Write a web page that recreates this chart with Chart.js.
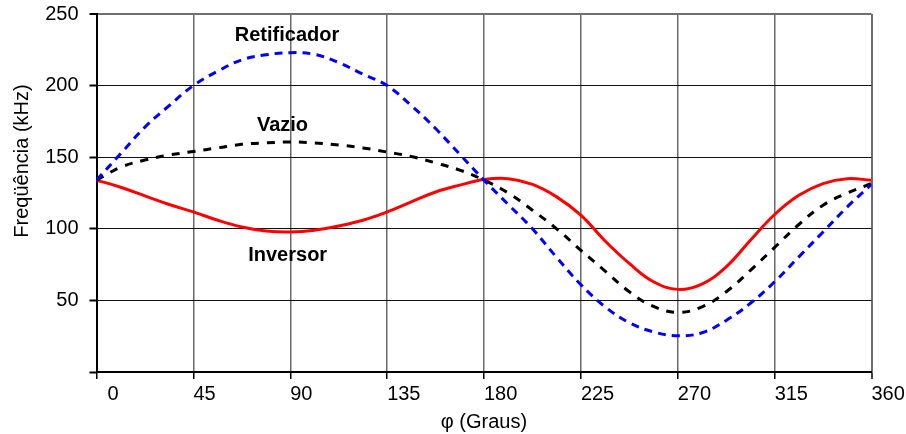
<!DOCTYPE html>
<html>
<head>
<meta charset="utf-8">
<script src="https://cdn.jsdelivr.net/npm/chart.js@4/dist/chart.umd.min.js"></script>
<style>
  html, body { margin: 0; padding: 0; background: #fff; }
  canvas { display: block; }
</style>
</head>
<body>
<canvas id="c" width="906" height="434"></canvas>
<script>
// Switching frequency versus phase angle for three operating modes
const angles = [0, 11.25, 22.5, 33.75, 45, 56.25, 67.5, 78.75, 90, 101.25, 112.5, 123.75, 135, 146.25, 157.5, 168.75,
                180, 191.25, 202.5, 213.75, 225, 236.25, 247.5, 258.75, 270, 281.25, 292.5, 303.75, 315, 326.25, 337.5, 348.75, 360];

const retificador = [134, 152.5, 171, 186, 200, 210, 218, 221.5, 223, 221.8, 216, 208, 200, 186, 170, 152,
                     134, 117, 100, 80, 61, 45.5, 34.4, 28, 25.3, 27.4, 36, 48, 63, 80.4, 97.8, 115.3, 131];

const vazio = [134, 143, 148, 151.5, 154, 156.5, 159, 160, 160.6, 160, 158.5, 156.5, 153.6, 150.5, 146, 141,
               134, 125, 113, 100, 85, 70.5, 56, 45.8, 41.6, 45.5, 56, 71, 87, 103, 116.5, 125, 131.6];

const inversor = [134, 129, 123, 117, 111.8, 106, 101.3, 98.5, 97.8, 99, 102, 106, 111.8, 118.8, 125.7, 130.5,
                  134.4, 135, 131, 122.3, 109.5, 91.5, 75.8, 63, 57.7, 61.4, 73.4, 92, 110, 123.4, 131.6, 135, 133.9];

const xTicks = [0, 45, 90, 135, 180, 225, 270, 315, 360];
const yTicks = [0, 50, 100, 150, 200, 250];

const xTitle = 'φ (Graus)';
const yTitle = 'Freqüência (kHz)';

// Curve names placed next to their curves (angle, kHz)
const curveNames = ['Retificador', 'Vazio', 'Inversor'];
const curveNameAt = [[88.5, 235], [86.4, 172], [88.8, 81.6]];

const FONT = "'Liberation Sans', Arial, Helvetica, sans-serif";

const toPoints = vals => angles.map((a, i) => ({ x: a, y: vals[i] }));

const labelsPlugin = {
  id: 'curveLabels',
  afterDraw(chart) {
    const { ctx, scales: { x, y } } = chart;
    ctx.save();
    ctx.fillStyle = '#000';
    ctx.textAlign = 'center';
    ctx.textBaseline = 'middle';
    ctx.font = 'bold 20px ' + FONT;
    curveNames.forEach((name, i) => {
      const [a, f] = curveNameAt[i];
      ctx.fillText(name, x.getPixelForValue(a), y.getPixelForValue(f));
    });
    // axis titles
    ctx.font = '20px ' + FONT;
    ctx.fillText(xTitle, (x.left + x.right) / 2, 422);
    ctx.translate(22, 161);
    ctx.rotate(-Math.PI / 2);
    ctx.fillText(yTitle, 0, 0);
    ctx.restore();
  }
};

new Chart(document.getElementById('c'), {
  type: 'line',
  data: {
    datasets: [
      {
        label: 'Retificador',
        data: toPoints(retificador),
        borderColor: '#0000ff',
        borderWidth: 3,
        borderDash: [8, 6],
        pointRadius: 0,
        tension: 0.4,
        fill: false
      },
      {
        label: 'Vazio',
        data: toPoints(vazio),
        borderColor: '#000000',
        borderWidth: 3,
        borderDash: [8, 8],
        pointRadius: 0,
        tension: 0.4,
        fill: false
      },
      {
        label: 'Inversor',
        data: toPoints(inversor),
        borderColor: '#ff0000',
        borderWidth: 3,
        pointRadius: 0,
        tension: 0.4,
        fill: false
      }
    ]
  },
  options: {
    responsive: false,
    animation: false,
    events: [],
    layout: { padding: { top: 14, right: 34.5, left: 0, bottom: 0 } },
    plugins: { legend: { display: false }, tooltip: { enabled: false }, title: { display: false } },
    scales: {
      x: {
        type: 'linear',
        min: 0,
        max: 360,
        afterBuildTicks: s => { s.ticks = xTicks.map(v => ({ value: v })); },
        afterFit: s => { s.height = 62; s.paddingLeft = 0; s.paddingRight = 0; },
        ticks: {
          align: 'start',
          padding: 3,
          color: '#000',
          font: { family: FONT, size: 20 },
          callback: v => (v === 0 ? '  0' : String(v))
        },
        grid: {
          color: ctx => (ctx.tick && ctx.tick.value === 360 ? '#6e6e6e' : '#6a6a6a'),
          lineWidth: ctx => (ctx.tick && ctx.tick.value === 360 ? 2 : 1.5),
          tickColor: '#000',
          tickLength: 7,
          tickWidth: 1.5
        },
        border: { color: '#000', width: 2 }
      },
      y: {
        type: 'linear',
        min: 0,
        max: 250,
        afterBuildTicks: s => { s.ticks = yTicks.map(v => ({ value: v })); },
        afterFit: s => { s.width = 96.5; s.paddingTop = 0; s.paddingBottom = 0; },
        ticks: {
          padding: 11,
          color: '#000',
          font: { family: FONT, size: 20 },
          callback: v => (v === 0 ? '' : String(v))
        },
        grid: {
          color: ctx => (ctx.tick && ctx.tick.value === 250 ? '#707070' : '#111'),
          lineWidth: ctx => (ctx.tick && ctx.tick.value === 250 ? 2 : 1),
          tickColor: '#000',
          tickLength: 7,
          tickWidth: 2
        },
        border: { color: '#000', width: 2 }
      }
    }
  },
  plugins: [labelsPlugin]
});
</script>
</body>
</html>
